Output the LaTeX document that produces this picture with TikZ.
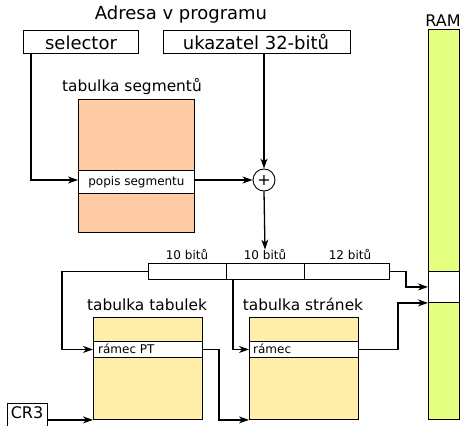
\documentclass[tikz,border=0pt]{standalone}
\usepackage{fontspec}
\setmainfont{DejaVu Sans}
\usetikzlibrary{arrows.meta}
\definecolor{peach}{HTML}{FFCCA6}
\definecolor{tabyel}{HTML}{FFEEAA}
\definecolor{ramgreen}{HTML}{E5FF80}
\begin{document}
\begin{tikzpicture}[x=1pt,y=-1pt,
  box/.style={draw=black,line width=0.9pt,inner sep=0pt,anchor=north west},
  conn/.style={draw=black,line width=1.3pt,-{Stealth[length=10pt,width=7pt,inset=3pt]}},
  big/.style={font=\fontsize{18}{20}\selectfont},
  mid/.style={font=\fontsize{15.4}{18}\selectfont},
  small/.style={font=\fontsize{12}{14}\selectfont},
  lbl/.style={inner sep=0pt,anchor=base}]
\useasboundingbox (0,0) rectangle (462,425);
% title
\node[lbl,big] (title) at (181,20) {Adresa v programu};
\node[lbl,font=\fontsize{16}{18}\selectfont] (ramlbl) at (443,27) {RAM};
% address boxes
\node[box,big,minimum width=115pt,minimum height=23pt] (sel) at (23,30) {};
\node[lbl,big] (seltxt) at (81,49.5) {selector};
\node[box,big,minimum width=187pt,minimum height=23pt] (ukaz) at (163,30) {};
\node[lbl,big] (ukaztxt) at (256,49.5) {ukazatel 32-bitů};
% segment table
\node[lbl,mid] (segl) at (132,92) {tabulka segmentů};
\node[box,fill=peach,minimum width=116pt,minimum height=133pt] (segtab) at (78,99) {};
\node[box,fill=white,small,minimum width=116pt,minimum height=23pt] (segrow) at (78,170) {popis segmentu};
% plus
\node[draw=black,line width=0.9pt,circle,minimum size=22pt,inner sep=0pt,font=\fontsize{16}{16}\selectfont] (plus) at (264,180) {+};
% linear address
\node[box,minimum width=78pt,minimum height=16pt] (a1) at (148,263) {};
\node[box,minimum width=78pt,minimum height=16pt] (a2) at (226,263) {};
\node[box,minimum width=85pt,minimum height=16pt] (a3) at (304,263) {};
\node[lbl,small] (l1) at (187,259) {10 bitů};
\node[lbl,small] (l2) at (265,259) {10 bitů};
\node[lbl,small] (l3) at (350,259) {12 bitů};
% page directory
\node[lbl,mid] (t1l) at (147,310) {tabulka tabulek};
\node[box,fill=tabyel,minimum width=109pt,minimum height=102pt] (t1) at (93,317) {};
\node[box,fill=white,minimum width=109pt,minimum height=16pt] (rpt) at (93,341) {};
\node[lbl,small,anchor=base west] (rpttxt) at (98,353) {rámec PT};
% page table
\node[lbl,mid] (t2l) at (303,310) {tabulka stránek};
\node[box,fill=tabyel,minimum width=109pt,minimum height=102pt] (t2) at (249,317) {};
\node[box,fill=white,minimum width=109pt,minimum height=16pt] (rr) at (249,341) {};
\node[lbl,small,anchor=base west] (rrtxt) at (253,353) {rámec};
% CR3
\node[box,minimum width=40pt,minimum height=24pt] (cr3) at (7,403) {};
\node[lbl,font=\fontsize{16}{18}\selectfont] (cr3txt) at (27,418) {CR3};
% RAM
\node[box,fill=ramgreen,minimum width=31pt,minimum height=390pt] (ram) at (428,29) {};
\node[box,fill=white,minimum width=31pt,minimum height=31pt] (ramrow) at (428,271) {};
% connectors
\draw[conn] ([xshift=8pt]sel.south west) |- (segrow.west |- plus.west);
\draw[conn] (segrow.east |- plus.west) -- (plus.west);
\draw[conn] (ukaz.south -| plus.north) -- (plus.north);
\draw[conn] (plus.south) -- ([yshift=-1pt]l2.north);
\draw[conn] (a1.west) -- ++(-86,0) |- (rpt.west);
\draw[conn] ([xshift=7pt]a2.south west) |- (rr.west);
\draw[conn] (rpt.east) -- ++(16,0) |- (t2.south west);
\draw[conn] (cr3.east |- t1.south west) -- (t1.south west);
\draw[conn] (rr.east) -- ++(39,0) |- (ramrow.south west);
\draw[conn] (a3.east) -- ++(16,0) |- (ramrow.west);
\end{tikzpicture}
\end{document}
